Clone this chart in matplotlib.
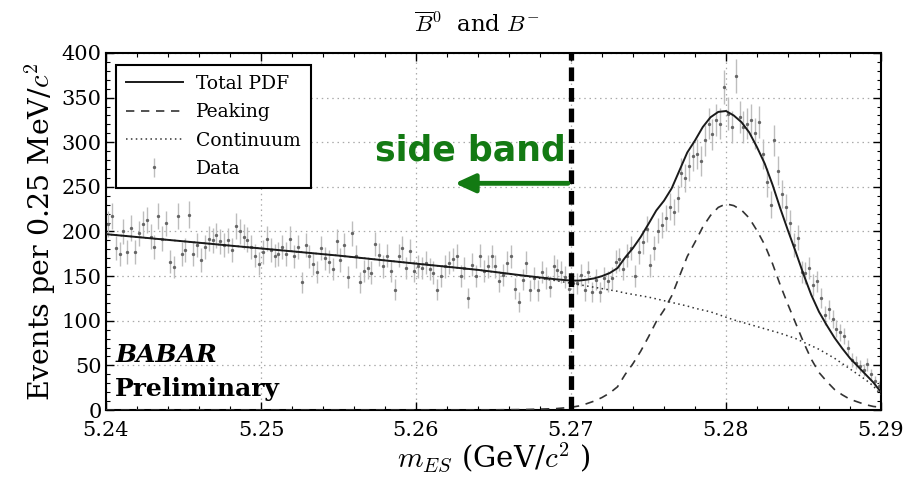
import numpy as np
import matplotlib
matplotlib.use("Agg")
import matplotlib.pyplot as plt

plt.rcParams['font.family'] = ['DejaVu Serif']
plt.rcParams['mathtext.fontset'] = 'cm'

# ---------------- data ----------------
x_min, x_max = 5.24, 5.29
bin_width = 0.00025

counts = [
    # 5.2400 - 5.2480
    208, 217, 181, 175, 200, 177, 204, 177, 198, 208, 213, 194, 183, 217, 192, 209,
    166, 160, 217, 175, 179, 219, 175, 185, 168, 183, 192, 190, 196, 189, 185, 190,
    # 5.2480 - 5.2565
    179, 206, 200, 194, 191, 183, 173, 164, 177, 192, 179, 173, 175, 183, 175, 192,
    172, 183, 143, 185, 172, 164, 155, 181, 170, 166, 158, 189, 168, 185, 149, 198,
    172, 143,
    # 5.2565 - 5.2645
    156, 159, 154, 186, 174, 161, 173, 156, 135, 173, 182, 159, 178, 156, 161, 159,
    165, 158, 154, 135, 150, 161, 165, 169, 173, 150, 159, 126, 163, 150, 173, 156,
    # 5.2645 - 5.2728
    161, 172, 161, 144, 151, 165, 172, 136, 121, 146, 165, 134, 148, 134, 155, 148,
    138, 161, 157, 155, 149, 136, 142, 142, 151, 134, 155, 132, 146, 132, 148, 144,
    148,
    # 5.2728 - 5.2815
    166, 169, 158, 173, 181, 150, 177, 188, 203, 162, 181, 201, 207, 215, 228, 222,
    237, 266, 260, 273, 285, 287, 279, 302, 321, 309, 325, 321, 362, 332, 317, 374,
    328, 317, 321,
    # 5.2815 - 5.2900
    325, 310, 323, 287, 255, 230, 302, 268, 242, 227, 210, 185, 193, 155, 153, 159,
    140, 144, 125, 106, 113, 102, 91, 87, 83, 70, 56, 53, 49, 45, 51, 40, 32, 27,
]

curve_x = [5.240, 5.245, 5.250, 5.255, 5.260, 5.264, 5.267, 5.269, 5.270, 5.2705,
           5.271, 5.2715, 5.272, 5.2725, 5.273, 5.2735, 5.274, 5.2745, 5.275, 5.2755,
           5.276, 5.2765, 5.277, 5.2775, 5.278, 5.2785, 5.279, 5.2795, 5.280, 5.2805,
           5.281, 5.2815, 5.282, 5.2825, 5.283, 5.2835, 5.284, 5.2845, 5.285, 5.2855,
           5.286, 5.2865, 5.287, 5.2875, 5.288, 5.2885, 5.289, 5.2895, 5.290]

continuum = [197, 189, 181, 173, 164, 157, 150, 145, 142, 140.5,
             139, 137.5, 136, 134.5, 133, 131, 129.5, 128, 126.5, 124.5,
             122.5, 120.5, 118.5, 116.5, 114, 112, 110, 107, 104, 101,
             98.5, 96, 93.5, 91, 88.5, 86, 83, 80, 76, 72,
             68, 63, 58, 52, 46, 40, 34, 27, 17]

peaking = [0, 0, 0, 0, 0, 0, 0.5, 1.5, 3, 4.5,
           7, 10, 14, 19, 26, 40, 52, 66, 82, 99,
           112, 128, 150, 172, 188, 205, 218, 227, 231, 229,
           224, 215, 201, 185, 164, 140, 118, 97, 76, 57,
           42, 32, 23, 17, 12, 9, 6, 4, 3]

total_pdf = [197, 189, 181, 173, 164, 157, 150.5, 146.5, 145, 145,
             146, 147.5, 150, 153.5, 159, 171, 181.5, 194, 208.5, 223.5,
             234.5, 248.5, 268.5, 288.5, 302, 317, 328, 334, 335, 330,
             322.5, 311, 294.5, 276, 252.5, 226, 201, 177, 152, 129,
             110, 95, 81, 69, 58, 49, 40, 31, 20]

x_ticks = [5.24, 5.25, 5.26, 5.27, 5.28, 5.29]
y_ticks = [0, 50, 100, 150, 200, 250, 300, 350, 400]
side_band_edge = 5.27

# ---------------- figure ----------------
fig = plt.figure(figsize=(9.09, 4.78), dpi=100)
ax = fig.add_axes([106/909, (478-410)/478, (881-106)/909, (410-53)/478])

counts_arr = np.array(counts, dtype=float)
centers = x_min + bin_width * (np.arange(len(counts_arr)) + 0.5)
errs = np.sqrt(counts_arr)

eb = ax.errorbar(centers, counts_arr, yerr=errs, fmt='o', ms=1.4, color='#666666',
                 ecolor='#bdbdbd', elinewidth=1.0, capsize=0, zorder=2, label='Data')

l_cont, = ax.plot(curve_x, continuum, linestyle=(0, (1, 2.2)), color='#333333', lw=1.1,
                  zorder=3, label='Continuum')
l_peak, = ax.plot(curve_x, peaking, linestyle=(0, (5, 4)), color='#333333', lw=1.2,
                  zorder=3, label='Peaking')
l_tot, = ax.plot(curve_x, total_pdf, linestyle='-', color='#1a1a1a', lw=1.4,
                 zorder=4, label='Total PDF')

ax.axvline(side_band_edge, color='black', lw=3.8, linestyle=(0, (2.6, 1.3)), zorder=5)

ax.set_xlim(x_min, x_max)
ax.set_ylim(0, 400)
ax.set_xticks(x_ticks)
ax.set_xticklabels([f"{t:.2f}" for t in x_ticks])
ax.set_yticks(y_ticks)
ax.set_xticks(np.arange(5.24, 5.2901, 0.002), minor=True)
ax.set_yticks(np.arange(0, 401, 10), minor=True)
ax.tick_params(which='both', direction='in', top=True, right=True)
ax.tick_params(which='major', length=6, width=1, labelsize=15)
ax.tick_params(axis='x', which='major', pad=8)
ax.tick_params(axis='y', which='major', pad=3)
ax.tick_params(which='minor', length=3, width=0.8)
ax.grid(True, which='major', linestyle=(0, (1.2, 3)), color='#aaaaaa', lw=0.9)
for s in ax.spines.values():
    s.set_linewidth(1.5)

ax.set_xlabel(r'$m_{ES}$ (GeV/$c^2$ )', fontsize=21, labelpad=0)
ax.set_ylabel(r'Events per 0.25 MeV/$c^2$', fontsize=20.5, labelpad=3)
fig.text(477/909, 1 - 25/478, r'$\overline{B}^0$  and $B^{-}$', fontsize=16.5,
         ha='center', va='center')

leg = ax.legend(handles=[l_tot, l_peak, l_cont, eb],
                labels=['Total PDF', 'Peaking', 'Continuum', 'Data'],
                loc='upper left', bbox_to_anchor=(0.008, 0.978), fontsize=13.5,
                fancybox=False, framealpha=1, edgecolor='black',
                handlelength=3.0, borderpad=0.55, labelspacing=0.55,
                handletextpad=0.7, borderaxespad=0.2)
leg.get_frame().set_linewidth(1.5)

ax.text(5.2635, 291, 'side band', fontsize=25, fontweight='bold', color='#137a13',
        family='DejaVu Sans', ha='center', va='center', zorder=6)
ax.annotate('', xy=(5.2625, 254), xytext=(5.2698, 254),
            arrowprops=dict(arrowstyle='-|>,head_length=1.2,head_width=0.55',
                            color='#137a13', lw=3.5, shrinkA=0, shrinkB=0), zorder=6)

ax.text(5.2406, 62, 'BABAR', fontsize=18, fontweight='bold', style='italic',
        ha='left', va='center', zorder=6)
ax.text(5.2406, 24, 'Preliminary', fontsize=18, fontweight='bold',
        ha='left', va='center', zorder=6)

fig.savefig('out.png', dpi=100)
